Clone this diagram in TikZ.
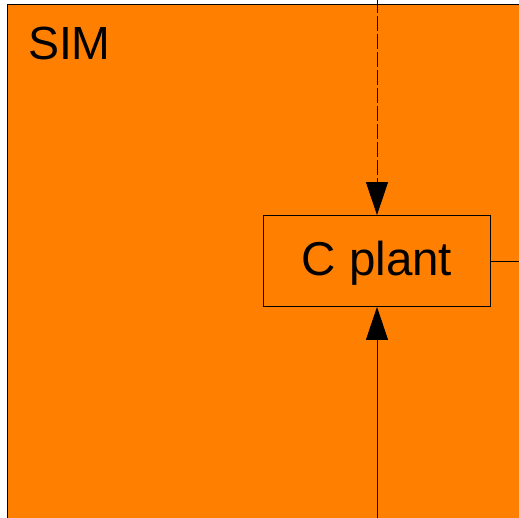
\documentclass[tikz,border=0pt]{standalone}
\usepackage{fontspec}
\setmainfont{Liberation Sans}
\usetikzlibrary{arrows.meta}
\definecolor{simorange}{RGB}{255,128,0}
\tikzset{
  blk/.style={draw=black, line width=0.8pt, fill=simorange, minimum width=227pt, minimum height=91pt, inner sep=0pt, text depth=5pt, font=\fontsize{47.5}{56}\selectfont},
  conn/.style={draw=black, line width=0.9pt},
  bigtip/.style={-{Triangle[length=33pt,width=22pt]}},
  dsh/.style={dash pattern=on 15.5pt off 2.5pt}
}
\begin{document}
\begin{tikzpicture}[x=1pt,y=-1pt]
\useasboundingbox (0,0) rectangle (519,518);
\fill[white] (0,0) rectangle (519,518);
\draw[line width=0.8pt, fill=simorange] (7,4) rectangle (530,530);
\node[anchor=base west, font=\fontsize{46.5}{56}\selectfont] (sim) at (24.5,60) {SIM};
\node[blk] (plant) at (377,261) {C plant};
\coordinate (topin) at (377,-2);
\coordinate (botin) at (377,520);
\coordinate (rout) at (521,261);
\draw[conn, dsh, bigtip] (topin) -- (plant.north);
\draw[conn, bigtip] (botin) -- (plant.south);
\draw[conn] (plant.east) -- (rout);
\end{tikzpicture}
\end{document}
